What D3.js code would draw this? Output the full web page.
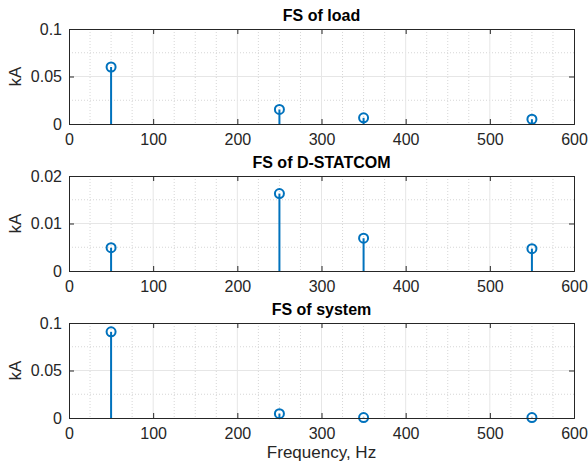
<!DOCTYPE html>
<html><head>
<meta charset="utf-8">
<script src="https://d3js.org/d3.v7.min.js"></script>
<style>
  body { margin: 0; background: #fff; }
  text { font-family: "Liberation Sans", Arial, sans-serif; }
</style>
</head>
<body>
<svg id="chart" width="588" height="464"></svg>
<script>
// Harmonic frequencies (Hz)
const freqs = [50, 250, 350, 550];

// Magnitudes in kA
const loadVals = [0.060, 0.0153, 0.0065, 0.005];
const statcomVals = [0.0049, 0.0163, 0.0069, 0.0047];
const systemVals = [0.0907, 0.0046, 0.0004, 0.0004];

const titles = ["FS of load", "FS of D-STATCOM", "FS of system"];
const yMax = [0.1, 0.02, 0.1];
const yTicks = [[0, 0.05, 0.1], [0, 0.01, 0.02], [0, 0.05, 0.1]];
const yTickLabels = [["0", "0.05", "0.1"], ["0", "0.01", "0.02"], ["0", "0.05", "0.1"]];
const xTicks = [0, 100, 200, 300, 400, 500, 600];

const series = [loadVals, statcomVals, systemVals];

const svg = d3.select("#chart");
const left = 69, right = 574;
const tops = [29, 176, 323];
const plotH = 95;
const stemColor = "#0072BD";
const axisColor = "#262626";
const fontSize = "16px";

const x = d3.scaleLinear().domain([0, 600]).range([left, right]);

series.forEach((vals, p) => {
  const top = tops[p], bottom = top + plotH;
  const y = d3.scaleLinear().domain([0, yMax[p]]).range([bottom, top]);
  const g = svg.append("g");

  // minor grid (dotted)
  const minorX = d3.range(25, 600, 25).filter(v => v % 100 !== 0);
  g.selectAll(".mgx").data(minorX).join("line")
    .attr("x1", d => x(d)).attr("x2", d => x(d))
    .attr("y1", top).attr("y2", bottom)
    .attr("stroke", "#d6d6d6").attr("stroke-width", 1)
    .attr("stroke-dasharray", "1,2");
  const minorY = [yMax[p] * 0.25, yMax[p] * 0.75];
  g.selectAll(".mgy").data(minorY).join("line")
    .attr("x1", left).attr("x2", right)
    .attr("y1", d => y(d)).attr("y2", d => y(d))
    .attr("stroke", "#d6d6d6").attr("stroke-width", 1)
    .attr("stroke-dasharray", "1,2");

  // major grid
  g.selectAll(".gx").data(xTicks.slice(1, -1)).join("line")
    .attr("x1", d => x(d)).attr("x2", d => x(d))
    .attr("y1", top).attr("y2", bottom)
    .attr("stroke", "#e6e6e6").attr("stroke-width", 1);
  g.selectAll(".gy").data(yTicks[p].slice(1, -1)).join("line")
    .attr("x1", left).attr("x2", right)
    .attr("y1", d => y(d)).attr("y2", d => y(d))
    .attr("stroke", "#e6e6e6").attr("stroke-width", 1);

  // stems
  g.selectAll(".stem").data(vals).join("line")
    .attr("x1", (d, i) => x(freqs[i])).attr("x2", (d, i) => x(freqs[i]))
    .attr("y1", y(0)).attr("y2", d => y(d))
    .attr("stroke", stemColor).attr("stroke-width", 2);
  g.selectAll(".mark").data(vals).join("circle")
    .attr("cx", (d, i) => x(freqs[i])).attr("cy", d => y(d))
    .attr("r", 4.5).attr("fill", "none")
    .attr("stroke", stemColor).attr("stroke-width", 2);

  // axes (ticks inside, box)
  const xAxB = d3.axisBottom(x).tickValues(xTicks).tickSize(-5).tickFormat(d3.format("d"));
  const xAxT = d3.axisTop(x).tickValues(xTicks).tickSize(-5).tickFormat("");
  const yAxL = d3.axisLeft(y).tickValues(yTicks[p]).tickSize(-5)
    .tickFormat((d, i) => yTickLabels[p][i]);
  const yAxR = d3.axisRight(y).tickValues(yTicks[p]).tickSize(-5).tickFormat("");

  const styleAxis = sel => {
    sel.selectAll("path").attr("stroke", axisColor).attr("stroke-width", 1);
    sel.selectAll("line").attr("stroke", axisColor);
    sel.selectAll("text").attr("fill", axisColor).style("font-size", fontSize)
      .style("font-family", "'Liberation Sans', Arial, sans-serif");
  };

  g.append("g").attr("transform", `translate(0,${bottom})`).call(xAxB).call(styleAxis)
    .call(s => s.selectAll("text").attr("dy", "0.71em").attr("y", 10));
  g.append("g").attr("transform", `translate(0,${top})`).call(xAxT).call(styleAxis);
  g.append("g").attr("transform", `translate(${left},0)`).call(yAxL).call(styleAxis)
    .call(s => s.selectAll("text").attr("x", -7));
  g.append("g").attr("transform", `translate(${right},0)`).call(yAxR).call(styleAxis);

  // title
  svg.append("text")
    .attr("x", (left + right) / 2).attr("y", top - 8)
    .attr("text-anchor", "middle")
    .style("font-size", "16px").style("font-weight", "bold")
    .attr("fill", "#000")
    .text(titles[p]);

  // y label
  svg.append("text")
    .attr("transform", `translate(21,${(top + bottom) / 2}) rotate(-90)`)
    .attr("text-anchor", "middle")
    .style("font-size", "17px")
    .attr("fill", axisColor)
    .text("kA");
});

svg.append("text")
  .attr("x", (left + right) / 2).attr("y", 458)
  .attr("text-anchor", "middle")
  .style("font-size", "17px")
  .attr("fill", axisColor)
  .text("Frequency, Hz");
</script>
</body>
</html>
